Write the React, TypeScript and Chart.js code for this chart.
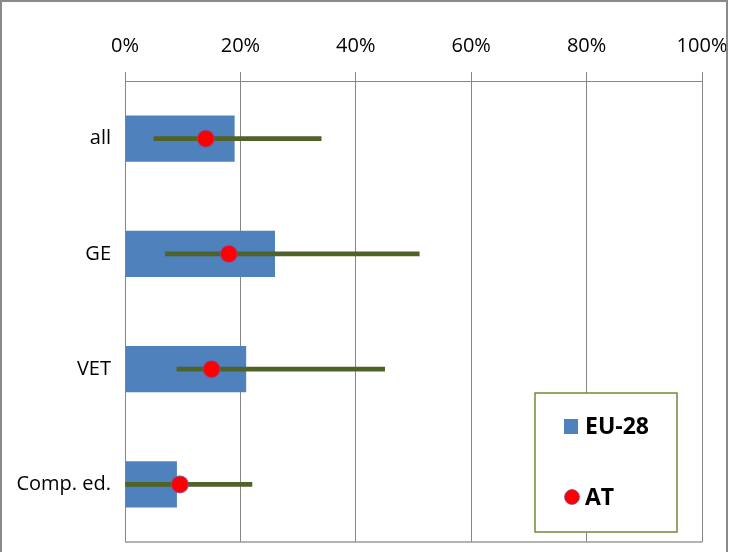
import React, { useEffect, useRef } from 'react';
import { Chart, registerables } from 'chart.js';

Chart.register(...registerables);

const categories = ['all', 'GE', 'VET', 'Comp. ed.'];
const eu28Values = [19, 26, 21, 9];
const atValues = [14, 18, 15, 9.5];
const rangeLow = [5, 7, 9, 0];
const rangeHigh = [34, 51, 45, 22];
const xTicks = [0, 20, 40, 60, 80, 100];

const FONT = '"Open Sans", Lato, "Liberation Sans", sans-serif';
const GRID = '#868686';

const framePlugin = {
  id: 'frame',
  beforeDatasetsDraw(chart: any) {
    const { ctx, chartArea } = chart;
    ctx.save();
    ctx.strokeStyle = '#9a9a9a';
    ctx.lineWidth = 1.5;
    ctx.beginPath();
    ctx.moveTo(chartArea.left, chartArea.bottom);
    ctx.lineTo(chartArea.right, chartArea.bottom);
    ctx.stroke();
    ctx.restore();
  },
  afterDraw(chart: any) {
    const { ctx } = chart;
    ctx.save();
    ctx.strokeStyle = '#8a8a8a';
    ctx.lineWidth = 2;
    ctx.strokeRect(1, 1, chart.width - 3, chart.height + 20);
    ctx.restore();
  },
};

const boxLegendPlugin = {
  id: 'boxLegend',
  afterDraw(chart: any) {
    const { ctx, chartArea } = chart;
    const w = 142;
    const h = 139;
    const x = chartArea.right - 25 - w;
    const y = chartArea.bottom - 10 - h;
    const barDs = chart.data.datasets[2];
    const ptDs = chart.data.datasets[0];
    ctx.save();
    ctx.fillStyle = '#ffffff';
    ctx.fillRect(x, y, w, h);
    ctx.strokeStyle = '#6F8A3A';
    ctx.lineWidth = 1.5;
    ctx.strokeRect(x, y, w, h);

    ctx.fillStyle = barDs.backgroundColor;
    ctx.fillRect(x + 29, y + 26, 14, 15);

    ctx.beginPath();
    ctx.arc(x + 37, y + 104, 7.5, 0, Math.PI * 2);
    ctx.fillStyle = ptDs.backgroundColor;
    ctx.fill();
    ctx.strokeStyle = ptDs.borderColor;
    ctx.lineWidth = 1;
    ctx.stroke();

    ctx.fillStyle = '#000000';
    ctx.font = `bold 23px ${FONT}`;
    ctx.textBaseline = 'middle';
    ctx.textAlign = 'left';
    ctx.fillText(barDs.label, x + 50, y + 34);
    ctx.fillText(ptDs.label, x + 50, y + 105);
    ctx.restore();
  },
};

export default function App() {
  const canvasRef = useRef<HTMLCanvasElement | null>(null);

  useEffect(() => {
    if (!canvasRef.current) return;
    const chart = new Chart(canvasRef.current, {
      type: 'bar',
      data: {
        labels: categories,
        datasets: [
          {
            type: 'line',
            label: 'AT',
            indexAxis: 'y',
            data: atValues,
            showLine: false,
            pointRadius: 8.5,
            pointHoverRadius: 8.5,
            backgroundColor: '#FF0000',
            borderColor: 'rgba(128,80,170,0.75)',
            borderWidth: 1.2,
            order: 0,
          } as any,
          {
            type: 'bar',
            label: 'range',
            data: rangeLow.map((lo, i) => [lo, rangeHigh[i]]),
            backgroundColor: '#4F6228',
            barThickness: 4,
            grouped: false,
            order: 1,
          } as any,
          {
            type: 'bar',
            label: 'EU-28',
            data: eu28Values,
            backgroundColor: '#4F81BD',
            barPercentage: 0.4,
            categoryPercentage: 1,
            grouped: false,
            order: 2,
          } as any,
        ],
      },
      options: {
        indexAxis: 'y',
        animation: false,
        responsive: false,
        maintainAspectRatio: false,
        layout: { padding: { left: 0, right: 27, top: 0, bottom: 10 } },
        plugins: {
          legend: { display: false },
          tooltip: { enabled: false },
        },
        scales: {
          x: {
            position: 'top',
            min: 0,
            max: 100,
            afterBuildTicks: (scale: any) => {
              scale.ticks = xTicks.map((v) => ({ value: v }));
            },
            afterFit: (scale: any) => {
              scale.height = 81;
              scale.paddingLeft = 0;
              scale.paddingRight = 0;
            },
            ticks: {
              padding: 14,
              color: '#000000',
              font: { family: FONT, size: 20 },
              callback: (v: any) => `${v}%`,
              maxRotation: 0,
            },
            grid: {
              color: GRID,
              lineWidth: 1,
              tickLength: 9,
            },
            border: { display: true, color: GRID, width: 1 },
          },
          y: {
            afterFit: (scale: any) => {
              scale.width = 125;
              scale.paddingTop = 0;
              scale.paddingBottom = 0;
            },
            ticks: {
              padding: 14,
              color: '#000000',
              font: { family: FONT, size: 20 },
            },
            grid: { display: false, drawTicks: false },
            border: { display: false },
          },
        },
      } as any,
      plugins: [framePlugin, boxLegendPlugin],
    });
    return () => chart.destroy();
  }, []);

  return (
    <div style={{ position: 'absolute', left: 0, top: 0, width: 729, height: 552, background: '#ffffff' }}>
      <canvas ref={canvasRef} width={729} height={552} style={{ display: 'block' }} />
    </div>
  );
}
